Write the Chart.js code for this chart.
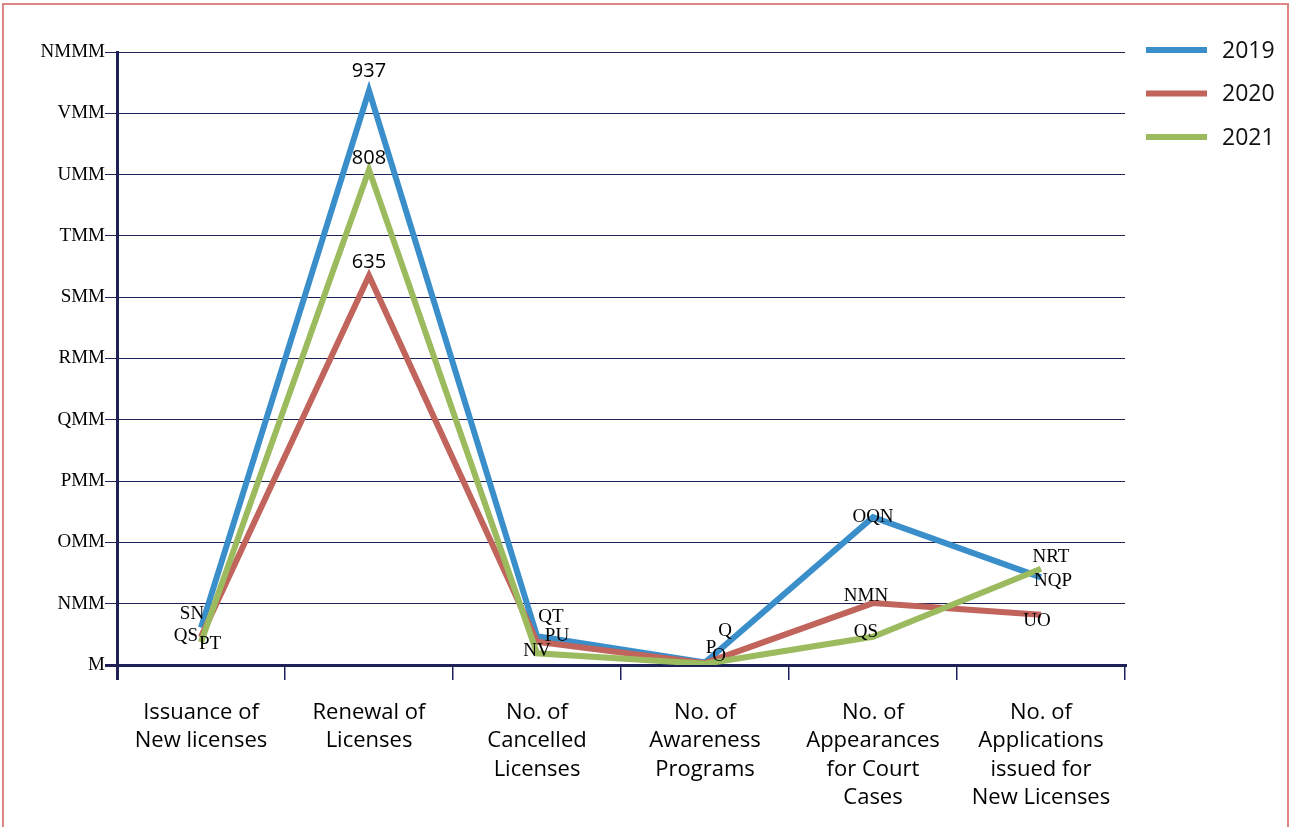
<!DOCTYPE html>
<html>
<head>
<meta charset="utf-8">
<title>Licensing activity 2019-2021</title>
<script src="https://cdn.jsdelivr.net/npm/chart.js@4.4.1/dist/chart.umd.min.js"></script>
<style>
  html, body { margin: 0; padding: 0; background: #fff; }
  #wrap { position: relative; width: 1290px; height: 827px; }
</style>
</head>
<body>
<div id="wrap"><canvas id="flows"></canvas></div>
<script>
// activity categories (multi-line axis labels)
const categories = [
  ['Issuance of', 'New licenses'],
  ['Renewal of', 'Licenses'],
  ['No. of', 'Cancelled', 'Licenses'],
  ['No. of', 'Awareness', 'Programs'],
  ['No. of', 'Appearances', 'for Court', 'Cases'],
  ['No. of', 'Applications', 'issued for', 'New Licenses']
];
const years = ['2019', '2020', '2021'];
const values2019 = [61, 937, 47, 4, 241, 143];
const values2020 = [46, 635, 38, 3, 101, 82];
const values2021 = [37, 808, 19, 2, 46, 157];
const yTickValues = [0, 100, 200, 300, 400, 500, 600, 700, 800, 900, 1000];

const colors = ['#3A8FCB', '#C0645C', '#9BBB5E'];
const navy = '#1E2157';

// numbers are printed through the old symbol font: 0 -> M, 1 -> N ... 9 -> V
const symbolDigits = v => String(v).replace(/\d/g, d => String.fromCharCode(77 + Number(d)));

// renewal peaks are printed in plain digits
const plainLabelIndex = 1;

// label nudges from each point, per series
const labelOffsets = [
  [[-9, -14], [0, -19], [14, -19], [20, -32], [0, 0], [12, 4]],
  [[-15, -1], [0, -13], [20, -6], [6, -15], [-7, -7], [-4, 6]],
  [[9, 2], [0, -11], [0, -2], [14, -8], [-7, -5], [10, -12]]
];

const pointLabels = {
  id: 'pointLabels',
  afterDatasetsDraw(chart) {
    const ctx = chart.ctx;
    ctx.save();
    ctx.fillStyle = '#000';
    ctx.textAlign = 'center';
    ctx.textBaseline = 'middle';
    chart.data.datasets.forEach((ds, di) => {
      const meta = chart.getDatasetMeta(di);
      meta.data.forEach((pt, i) => {
        const [dx, dy] = labelOffsets[di][i];
        let text;
        if (i === plainLabelIndex) {
          ctx.font = '20px "Open Sans"';
          text = String(ds.data[i]);
        } else {
          ctx.font = '19px "Liberation Serif"';
          text = symbolDigits(ds.data[i]);
        }
        ctx.fillText(text, pt.x + dx, pt.y + dy);
      });
    });
    ctx.restore();
  }
};

// legend at the top right, plus the thin frame around the figure
const sideLegend = {
  id: 'sideLegend',
  afterDraw(chart) {
    const ctx = chart.ctx;
    ctx.save();
    chart.data.datasets.forEach((ds, i) => {
      const y = 50 + i * 43.5;
      ctx.strokeStyle = ds.borderColor;
      ctx.lineWidth = 6;
      ctx.beginPath();
      ctx.moveTo(1146, y);
      ctx.lineTo(1207, y);
      ctx.stroke();
      ctx.fillStyle = '#111';
      ctx.font = '23px "Open Sans"';
      ctx.textBaseline = 'middle';
      ctx.fillText(ds.label, 1222, y + 1);
    });
    ctx.strokeStyle = '#DE8585';
    ctx.lineWidth = 2;
    ctx.strokeRect(3, 4, 1285, 900);
    ctx.restore();
  }
};

new Chart(document.getElementById('flows'), {
  type: 'line',
  data: {
    labels: categories,
    datasets: [
      { label: years[0], data: values2019, order: 3 },
      { label: years[1], data: values2020, order: 2 },
      { label: years[2], data: values2021, order: 1 }
    ].map((d, i) => Object.assign(d, {
      borderColor: colors[i],
      backgroundColor: colors[i],
      borderWidth: 6,
      borderJoinStyle: 'miter',
      pointRadius: 0,
      tension: 0,
      fill: false
    }))
  },
  options: {
    responsive: true,
    maintainAspectRatio: false,
    animation: false,
    layout: { padding: { top: 52, right: 165, bottom: 0, left: 0 } },
    plugins: {
      legend: { display: false },
      tooltip: { enabled: false }
    },
    scales: {
      x: {
        offset: true,
        afterFit: s => { s.height = 162; },
        grid: {
          offset: true,
          drawOnChartArea: false,
          drawTicks: true,
          tickLength: 15,
          color: navy,
          lineWidth: c => (c.index === 0 ? 3 : 1.5)
        },
        border: { display: true, color: navy, width: 3 },
        ticks: {
          color: '#000',
          padding: 18,
          maxRotation: 0,
          autoSkip: false,
          font: { family: 'Open Sans', size: 22, lineHeight: 1.3 }
        }
      },
      y: {
        min: 0,
        max: 1000,
        afterFit: s => { s.width = 117; },
        afterBuildTicks: s => { s.ticks = yTickValues.map(v => ({ value: v })); },
        grid: {
          color: navy,
          lineWidth: c => (c.tick && c.tick.value === 0 ? 3 : 1),
          tickLength: 12
        },
        border: { display: true, color: navy, width: 3 },
        ticks: {
          color: '#000',
          padding: 0,
          font: { family: 'Liberation Serif', size: 19 },
          callback: v => symbolDigits(v)
        }
      }
    }
  },
  plugins: [pointLabels, sideLegend]
});
</script>
</body>
</html>
